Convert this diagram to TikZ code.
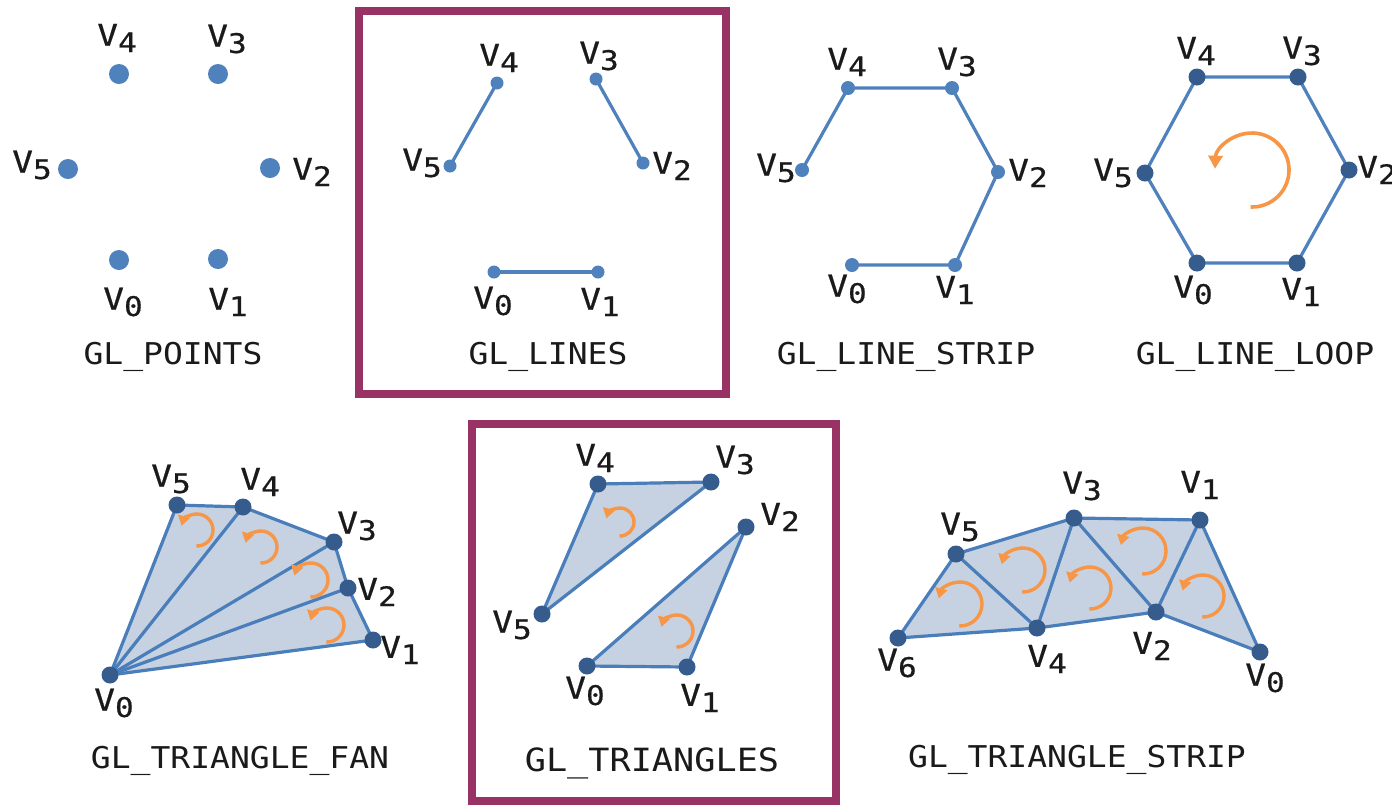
\documentclass[tikz,border=0pt]{standalone}
\usepackage{fontspec}
\usetikzlibrary{arrows.meta,backgrounds}
\newfontfamily\lblfont[FakeStretch=1.15,FakeBold=0.6]{DejaVu Sans Mono}
\newfontfamily\ttlfont[FakeStretch=1.1]{DejaVu Sans Mono}
\definecolor{lblue}{HTML}{4F81BD}
\definecolor{eblue}{HTML}{4A7EBB}
\definecolor{dblue}{HTML}{355C8C}
\definecolor{tfill}{HTML}{C6D2E1}
\definecolor{frm}{HTML}{993366}
\definecolor{orng}{HTML}{F79646}
\definecolor{txt}{HTML}{1A1A1A}
\newcommand\vx[1]{V\raisebox{-3.2pt}{\fontsize{13.5pt}{13.5pt}\selectfont #1}}
\newcommand\turnarc[3]{\draw[turn] (#1,#2) ++(92:#3) arc[start angle=92,end angle=-165,radius=#3];}
\begin{document}
\begin{tikzpicture}[x=0.5pt,y=-0.5pt,
  pt/.style={circle,inner sep=0pt,fill=lblue},
  bigpt/.style={pt,minimum size=10pt},
  smallpt/.style={pt,minimum size=6.5pt},
  midpt/.style={pt,minimum size=7pt},
  darkpt/.style={circle,inner sep=0pt,fill=dblue,minimum size=8.5pt},
  edge/.style={draw=lblue,line width=1.6pt,line join=round},
  tedge/.style={draw=eblue,line width=1.6pt,line join=round,fill=tfill},
  lbl/.style={font=\lblfont\fontsize{15pt}{15pt}\selectfont,text=txt,inner sep=0pt},
  ttl/.style={font=\ttlfont\fontsize{15pt}{15pt}\selectfont,text=txt,inner sep=0pt,anchor=base},
  frame/.style={draw=frm,line width=3.8pt},
  turn/.style={draw=orng,line width=1.7pt,-{Triangle[length=5pt,width=6pt]}}]
\useasboundingbox (0,0) rectangle (1392,805);
\begin{scope}[on background layer]
\fill[white] (0,0) rectangle (1392,805);
\end{scope}

% ---------- GL_POINTS ----------
\node[bigpt] (a0) at (119,260) {};
\node[bigpt] (a1) at (218,259) {};
\node[bigpt] (a2) at (270,168) {};
\node[bigpt] (a3) at (218,74) {};
\node[bigpt] (a4) at (119,74) {};
\node[bigpt] (a5) at (68,169) {};
\node[lbl] (la0) at (123,302) {\vx{0}};
\node[lbl] (la1) at (228,302) {\vx{1}};
\node[lbl] (la2) at (312,172) {\vx{2}};
\node[lbl] (la3) at (227,39) {\vx{3}};
\node[lbl] (la4) at (117,38) {\vx{4}};
\node[lbl] (la5) at (32,165) {\vx{5}};
\node[ttl] (ta) at (173,364) {GL\_POINTS};

% ---------- GL_LINES ----------
\draw[frame] (359,11) rectangle (726,394);
\node[smallpt] (b0) at (494,272) {};
\node[smallpt] (b1) at (598,272) {};
\node[smallpt] (b2) at (643,163) {};
\node[smallpt] (b3) at (596,79) {};
\node[smallpt] (b4) at (497,83) {};
\node[smallpt] (b5) at (450,166) {};
\begin{scope}[on background layer]
\draw[edge] (b0.center) -- (b1.center);
\draw[edge] (b2.center) -- (b3.center);
\draw[edge] (b4.center) -- (b5.center);
\end{scope}
\node[lbl] (lb0) at (493,301) {\vx{0}};
\node[lbl] (lb1) at (600,302) {\vx{1}};
\node[lbl] (lb2) at (672,166) {\vx{2}};
\node[lbl] (lb3) at (599,56) {\vx{3}};
\node[lbl] (lb4) at (499,58) {\vx{4}};
\node[lbl] (lb5) at (422,163) {\vx{5}};
\node[ttl] (tb) at (548,364) {GL\_LINES};

% ---------- GL_LINE_STRIP ----------
\node[midpt] (c0) at (852,265) {};
\node[midpt] (c1) at (955,265) {};
\node[midpt] (c2) at (998,172) {};
\node[midpt] (c3) at (952,88) {};
\node[midpt] (c4) at (848,88) {};
\node[midpt] (c5) at (802,170) {};
\begin{scope}[on background layer]
\draw[edge] (c0.center) -- (c1.center) -- (c2.center) -- (c3.center) -- (c4.center) -- (c5.center);
\end{scope}
\node[lbl] (lc0) at (847,289) {\vx{0}};
\node[lbl] (lc1) at (955,290) {\vx{1}};
\node[lbl] (lc2) at (1028,173) {\vx{2}};
\node[lbl] (lc3) at (957,62) {\vx{3}};
\node[lbl] (lc4) at (847,62) {\vx{4}};
\node[lbl] (lc5) at (776,168) {\vx{5}};
\node[ttl] (tc) at (906,364) {GL\_LINE\_STRIP};

% ---------- GL_LINE_LOOP ----------
\node[darkpt] (d0) at (1197,263) {};
\node[darkpt] (d1) at (1297,263) {};
\node[darkpt] (d2) at (1349,170) {};
\node[darkpt] (d3) at (1298,77) {};
\node[darkpt] (d4) at (1197,77) {};
\node[darkpt] (d5) at (1145,173) {};
\begin{scope}[on background layer]
\draw[edge] (d0.center) -- (d1.center) -- (d2.center) -- (d3.center) -- (d4.center) -- (d5.center) -- cycle;
\end{scope}
\draw[turn,line width=1.8pt,-{Triangle[length=6.5pt,width=7pt]}] (1252,170) ++(92:37) arc[start angle=92,end angle=-178,radius=37];
\node[lbl] (ld0) at (1193,290) {\vx{0}};
\node[lbl] (ld1) at (1301,292) {\vx{1}};
\node[lbl] (ld2) at (1377,170) {\vx{2}};
\node[lbl] (ld3) at (1302,51) {\vx{3}};
\node[lbl] (ld4) at (1196,51) {\vx{4}};
\node[lbl] (ld5) at (1113,173) {\vx{5}};
\node[ttl] (td) at (1255,364) {GL\_LINE\_LOOP};

% ---------- GL_TRIANGLE_FAN ----------
\node[darkpt] (e0) at (110,675) {};
\node[darkpt] (e1) at (373,640) {};
\node[darkpt] (e2) at (348,588) {};
\node[darkpt] (e3) at (334,542) {};
\node[darkpt] (e4) at (243,507) {};
\node[darkpt] (e5) at (177,505) {};
\begin{scope}[on background layer]
\draw[tedge] (e0.center) -- (e1.center) -- (e2.center) -- (e3.center) -- (e4.center) -- (e5.center) -- cycle;
\draw[edge,draw=eblue] (e0.center) -- (e2.center);
\draw[edge,draw=eblue] (e0.center) -- (e3.center);
\draw[edge,draw=eblue] (e0.center) -- (e4.center);
\end{scope}
\turnarc{197}{530}{16}
\turnarc{261}{547}{16}
\turnarc{311}{580}{17}
\turnarc{327}{625}{17}
\node[lbl] (le0) at (114,703) {\vx{0}};
\node[lbl] (le1) at (400,650) {\vx{1}};
\node[lbl] (le2) at (377,592) {\vx{2}};
\node[lbl] (le3) at (357,526) {\vx{3}};
\node[lbl] (le4) at (260,482) {\vx{4}};
\node[lbl] (le5) at (171,479) {\vx{5}};
\node[ttl] (te) at (240,768) {GL\_TRIANGLE\_FAN};

% ---------- GL_TRIANGLES ----------
\draw[frame] (472,424) rectangle (836,801);
\node[darkpt] (f0) at (587,666) {};
\node[darkpt] (f1) at (687,667) {};
\node[darkpt] (f2) at (746,527) {};
\node[darkpt] (f3) at (711,482) {};
\node[darkpt] (f4) at (598,484) {};
\node[darkpt] (f5) at (542,614) {};
\begin{scope}[on background layer]
\draw[tedge] (f0.center) -- (f1.center) -- (f2.center) -- cycle;
\draw[tedge] (f3.center) -- (f4.center) -- (f5.center) -- cycle;
\end{scope}
\turnarc{620}{522}{14}
\turnarc{677}{631}{16}
\node[lbl] (lf0) at (585,691) {\vx{0}};
\node[lbl] (lf1) at (700,698) {\vx{1}};
\node[lbl] (lf2) at (780,517) {\vx{2}};
\node[lbl] (lf3) at (735,460) {\vx{3}};
\node[lbl] (lf4) at (595,458) {\vx{4}};
\node[lbl] (lf5) at (512,625) {\vx{5}};
\node[ttl,font=\ttlfont\fontsize{16pt}{16pt}\selectfont] (tf) at (652,771) {GL\_TRIANGLES};

% ---------- GL_TRIANGLE_STRIP ----------
\node[darkpt] (g0) at (1260,652) {};
\node[darkpt] (g1) at (1200,520) {};
\node[darkpt] (g2) at (1156,612) {};
\node[darkpt] (g3) at (1074,518) {};
\node[darkpt] (g4) at (1037,628) {};
\node[darkpt] (g5) at (956,554) {};
\node[darkpt] (g6) at (898,638) {};
\begin{scope}[on background layer]
\draw[tedge] (g6.center) -- (g5.center) -- (g3.center) -- (g1.center) -- (g0.center) -- (g2.center) -- (g4.center) -- cycle;
\draw[edge,draw=eblue] (g5.center) -- (g4.center) -- (g3.center) -- (g2.center) -- (g1.center);
\end{scope}
\turnarc{960}{604}{22}
\turnarc{1023}{570}{22}
\turnarc{1090}{588}{21}
\turnarc{1143}{551}{23}
\turnarc{1203}{596}{21}
\node[lbl] (lg0) at (1265,678) {\vx{0}};
\node[lbl] (lg1) at (1200,485) {\vx{1}};
\node[lbl] (lg2) at (1152,646) {\vx{2}};
\node[lbl] (lg3) at (1082,486) {\vx{3}};
\node[lbl] (lg4) at (1047,659) {\vx{4}};
\node[lbl] (lg5) at (960,527) {\vx{5}};
\node[lbl] (lg6) at (897,663) {\vx{6}};
\node[ttl] (tg) at (1077,767) {GL\_TRIANGLE\_STRIP};
\end{tikzpicture}
\end{document}
